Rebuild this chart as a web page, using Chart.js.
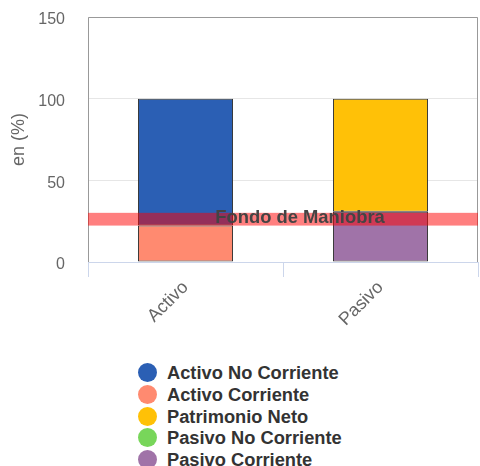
<!DOCTYPE html>
<html>
<head>
<meta charset="utf-8">
<script src="https://cdn.jsdelivr.net/npm/chart.js@4"></script>
<style>
  body { margin: 0; background: #fff; font-family: "Liberation Sans", Arial, sans-serif; }
  #wrap { position: relative; width: 480px; height: 340px; }
  #legend { position: absolute; left: 138px; top: 362px; }
  .item { height: 21.8px; line-height: 21.8px; font-weight: bold; font-size: 18.3px; color: #333; white-space: nowrap; }
  .dot { display: inline-block; width: 19px; height: 19px; border-radius: 50%; vertical-align: -3px; margin-right: 10px; }
</style>
</head>
<body>
<div id="wrap"><canvas id="c"></canvas></div>
<div id="legend"></div>
<script>
const categories = ["Activo", "Pasivo"];
const activoNoCorriente = [77.7, null];
const activoCorriente = [22.3, null];
const patrimonioNeto = [null, 69.3];
const pasivoNoCorriente = [null, 0];
const pasivoCorriente = [null, 30.7];
const fondoManiobra = [22.3, 30.1];
const yTicks = [0, 50, 100, 150];

const colors = {
  "Activo No Corriente": "#2b5fb4",
  "Activo Corriente": "#ff8a70",
  "Patrimonio Neto": "#ffc107",
  "Pasivo No Corriente": "#78d65a",
  "Pasivo Corriente": "#a073a8"
};
const legendOrder = ["Activo No Corriente", "Activo Corriente", "Patrimonio Neto", "Pasivo No Corriente", "Pasivo Corriente"];

function ds(label, data) {
  return { label, data, backgroundColor: colors[label], borderColor: "#333", borderWidth: 1, borderSkipped: false };
}

// bottom-up stacking order
const datasets = [
  ds("Activo Corriente", activoCorriente),
  ds("Activo No Corriente", activoNoCorriente),
  ds("Pasivo Corriente", pasivoCorriente),
  ds("Pasivo No Corriente", pasivoNoCorriente),
  ds("Patrimonio Neto", patrimonioNeto)
];

const frame = {
  id: "frame",
  beforeDatasetsDraw(chart) {
    const a = chart.chartArea, ctx = chart.ctx;
    ctx.save();
    ctx.strokeStyle = "#999";
    ctx.lineWidth = 1;
    ctx.beginPath();
    ctx.moveTo(a.left + 0.5, a.bottom);
    ctx.lineTo(a.left + 0.5, a.top + 0.5);
    ctx.lineTo(a.right - 0.5, a.top + 0.5);
    ctx.lineTo(a.right - 0.5, a.bottom);
    ctx.stroke();
    ctx.restore();
  }
};

const band = {
  id: "band",
  afterDatasetsDraw(chart) {
    const a = chart.chartArea, ctx = chart.ctx, y = chart.scales.y, x = chart.scales.x;
    const y1 = y.getPixelForValue(fondoManiobra[1]);
    const y0 = y.getPixelForValue(fondoManiobra[0]);
    ctx.save();
    ctx.fillStyle = "rgba(255,0,0,0.5)";
    ctx.fillRect(a.left, y1, a.right - a.left, y0 - y1);
    ctx.fillStyle = "#444";
    ctx.font = "bold 18.4px 'Liberation Sans', Arial, sans-serif";
    ctx.textAlign = "center";
    ctx.textBaseline = "middle";
    const cx = (x.getPixelForValue(0) + x.getPixelForValue(1)) / 2 + 17;
    ctx.fillText("Fondo de Maniobra", cx, (y0 + y1) / 2 - 1.5);
    ctx.restore();
  }
};

new Chart(document.getElementById("c"), {
  type: "bar",
  data: { labels: categories, datasets },
  plugins: [frame, band],
  options: {
    responsive: true,
    maintainAspectRatio: false,
    animation: false,
    layout: { padding: { top: 17, right: 2, left: 0, bottom: 0 } },
    plugins: { legend: { display: false }, tooltip: { enabled: false } },
    datasets: { bar: { barPercentage: 0.5, categoryPercentage: 0.975 } },
    scales: {
      x: {
        stacked: true,
        grid: { offset: true, drawOnChartArea: false, color: "#ccd6eb", tickLength: 15 },
        border: { color: "#ccd6eb" },
        ticks: {
          color: "#666",
          font: { family: "'Liberation Sans', Arial, sans-serif", size: 18 },
          maxRotation: 45, minRotation: 45, padding: 0
        },
        afterFit(s) { s.height = 78; }
      },
      y: {
        stacked: true,
        min: 0, max: 150,
        afterBuildTicks(s) { s.ticks = yTicks.map(v => ({ value: v })); },
        grid: { color: "#e6e6e6", drawTicks: false },
        border: { display: false },
        ticks: {
          color: "#666",
          font: { family: "'Liberation Sans', Arial, sans-serif", size: 16 },
          padding: 23,
          labelOffset: 3
        },
        title: {
          display: true, text: "en (%)", color: "#666",
          font: { family: "'Liberation Sans', Arial, sans-serif", size: 18 },
          padding: { top: 8, bottom: 0 }
        },
        afterFit(s) { s.width = 88; s.paddingTop = 0; s.paddingBottom = 0; }
      }
    }
  }
});

const legend = document.getElementById("legend");
legendOrder.forEach(name => {
  const d = document.createElement("div");
  d.className = "item";
  d.innerHTML = `<span class="dot" style="background:${colors[name]}"></span>${name}`;
  legend.appendChild(d);
});
</script>
</body>
</html>
